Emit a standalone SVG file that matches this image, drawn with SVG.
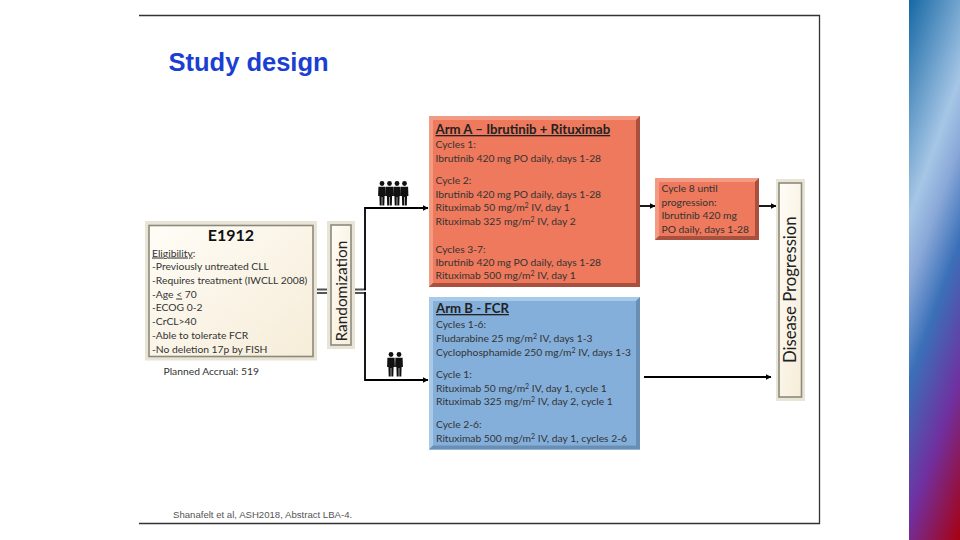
<svg xmlns="http://www.w3.org/2000/svg" xmlns:xlink="http://www.w3.org/1999/xlink" width="960" height="540" viewBox="0 0 960 540">
<style>
text{font-family:Lato,"Open Sans",sans-serif;fill:#333}
.t{font-size:10.3px}
.h{font-size:13.2px;font-weight:700;text-decoration:underline;fill:#222}
.u{text-decoration:underline}
.wire{fill:none;stroke:#000;stroke-width:1.8}
.dbl{fill:none;stroke:#555;stroke-width:2}
.ah{fill:#000}
.frame{fill:#e8e4d6}
.in{fill:url(#cream);stroke:#8d8a7c;stroke-width:1.6}
</style>
<defs>
<linearGradient id="side" gradientUnits="userSpaceOnUse" x1="909" y1="0" x2="1127.7" y2="79.7">
<stop offset="0" stop-color="#1668a4"/><stop offset=".32" stop-color="#a6c6e6"/><stop offset=".42" stop-color="#8aa8d8"/><stop offset=".56" stop-color="#3a70b8"/><stop offset=".765" stop-color="#7030a0"/><stop offset="1" stop-color="#a80010"/>
</linearGradient>
<linearGradient id="cream" x1="0" y1="0" x2="1" y2="1"><stop offset="0" stop-color="#fffdf7"/><stop offset="1" stop-color="#f6ecd8"/></linearGradient>
<marker id="arr" markerWidth="6" markerHeight="6" refX="5.500" refY="3" orient="auto" markerUnits="userSpaceOnUse"><path class="ah" d="M0 0L6 3L0 6Z"/></marker>
<g id="man"><circle cx="0" cy="2.500" r="2.400" fill="#111"/><path d="M-3.600 5.800H3.600L3.900 15H2.600L2.300 24.500H.3V16H-.3V24.500H-2.300L-2.600 15H-3.900Z" fill="#111"/></g>
</defs>
<rect width="960" height="540" fill="#fff"/>
<rect x="909" y="0" width="51" height="540" fill="url(#side)"/>
<path d="M139 15.500H819.500V523.500H139" fill="none" stroke="#333" stroke-width="1.3"/>
<text x="168.500" y="71" style="font-family:'Liberation Sans',Arial,sans-serif;font-size:25.500px;font-weight:700;fill:#1b3fd2">Study design</text>
<text x="173" y="517.500" style="font-family:'Liberation Sans',Arial,sans-serif;font-size:9.600px;fill:#555">Shanafelt et al, ASH2018, Abstract LBA-4.</text>

<g id="connectors">
<path class="dbl" d="M316 289.500H327M316 293H327M355 289.500H366M355 293H366"/>
<path class="wire" d="M365 290V208H428" marker-end="url(#arr)"/>
<path class="wire" d="M365 292V380H428" marker-end="url(#arr)"/>
<path class="wire" d="M640 206H655" marker-end="url(#arr)"/>
<path class="wire" d="M759 206H776" marker-end="url(#arr)"/>
<path class="wire" d="M644 377H771" marker-end="url(#arr)"/>
</g>

<g id="e1912">
<rect class="frame" x="145" y="221" width="172" height="139.500"/>
<rect class="in" x="149" y="225.500" width="164" height="131"/>
<text x="231" y="241" text-anchor="middle" style="font-size:16px;font-weight:700;fill:#111">E1912</text>
<text class="t" x="152" y="256.500"><tspan class="u">Eligibility</tspan>:</text>
<text class="t" x="152" y="270">-Previously untreated CLL</text>
<text class="t" x="152" y="284">-Requires treatment (IWCLL 2008)</text>
<text class="t" x="152" y="297.500">-Age <tspan class="u">&lt;</tspan> 70</text>
<text class="t" x="152" y="311">-ECOG 0-2</text>
<text class="t" x="152" y="325">-CrCL&gt;40</text>
<text class="t" x="152" y="338.500">-Able to tolerate FCR</text>
<text class="t" x="152" y="352.500">-No deletion 17p by FISH</text>
</g>
<text id="accrual" class="t" x="163.500" y="375">Planned Accrual: 519</text>

<g id="randomization">
<rect class="frame" x="327" y="221" width="28" height="128"/>
<rect class="in" x="331" y="225" width="20" height="120"/>
<text transform="translate(346.500 341.500) rotate(-90)" style="font-size:15.400px;fill:#222">Randomization</text>
</g>

<g id="arm-a">
<rect x="429" y="116" width="211" height="171" fill="#ee795c"/>
<path d="M429 116H640L636 120H433V283L429 287Z" fill="#f39a84"/>
<path d="M640 116V287H429L433 283H636V120Z" fill="#a9503f"/>
<text class="h" x="435.500" y="134">Arm A – Ibrutinib + Rituximab</text>
<text class="t" x="435.500" y="148">Cycles 1:</text>
<text class="t" x="435.500" y="161.500">Ibrutinib 420 mg PO daily, days 1-28</text>
<text class="t" x="435.500" y="184">Cycle 2:</text>
<text class="t" x="435.500" y="197.500">Ibrutinib 420 mg PO daily, days 1-28</text>
<text class="t" x="435.500" y="211">Rituximab 50 mg/m<tspan dy="-3" font-size="7">2</tspan><tspan dy="3"> IV, day 1</tspan></text>
<text class="t" x="435.500" y="224.500">Rituximab 325 mg/m<tspan dy="-3" font-size="7">2</tspan><tspan dy="3"> IV, day 2</tspan></text>
<text class="t" x="435.500" y="252.500">Cycles 3-7:</text>
<text class="t" x="435.500" y="265.500">Ibrutinib 420 mg PO daily, days 1-28</text>
<text class="t" x="435.500" y="279">Rituximab 500 mg/m<tspan dy="-3" font-size="7">2</tspan><tspan dy="3"> IV, day 1</tspan></text>
</g>

<g id="arm-b">
<rect x="429" y="297" width="211" height="152.500" fill="#84afdb"/>
<path d="M429 297H640L636 301H433V445.500L429 449.500Z" fill="#a9c9e9"/>
<path d="M640 297V449.500H429L433 445.500H636V301Z" fill="#6a8fb4"/>
<text class="h" x="436" y="313">Arm B - FCR</text>
<text class="t" x="436" y="328">Cycles 1-6:</text>
<text class="t" x="436" y="342">Fludarabine 25 mg/m<tspan dy="-3" font-size="7">2</tspan><tspan dy="3"> IV, days 1-3</tspan></text>
<text class="t" x="436" y="355.500">Cyclophosphamide 250 mg/m<tspan dy="-3" font-size="7">2</tspan><tspan dy="3"> IV, days 1-3</tspan></text>
<text class="t" x="436" y="377.500">Cycle 1:</text>
<text class="t" x="436" y="391.500">Rituximab 50 mg/m<tspan dy="-3" font-size="7">2</tspan><tspan dy="3"> IV, day 1, cycle 1</tspan></text>
<text class="t" x="436" y="405">Rituximab 325 mg/m<tspan dy="-3" font-size="7">2</tspan><tspan dy="3"> IV, day 2, cycle 1</tspan></text>
<text class="t" x="436" y="427.500">Cycle 2-6:</text>
<text class="t" x="436" y="441.500">Rituximab 500 mg/m<tspan dy="-3" font-size="7">2</tspan><tspan dy="3"> IV, day 1, cycles 2-6</tspan></text>
</g>

<g id="cycle-8">
<rect x="655" y="178" width="104" height="62" fill="#ee795c"/>
<path d="M655 178H759L755 182H659V236L655 240Z" fill="#f39a84"/>
<path d="M759 178V240H655L659 236H755V182Z" fill="#a9503f"/>
<text class="t" x="661.500" y="192">Cycle 8 until</text>
<text class="t" x="661.500" y="205.500">progression:</text>
<text class="t" x="661.500" y="219">Ibrutinib 420 mg</text>
<text class="t" x="661.500" y="232.500">PO daily, days 1-28</text>
</g>

<g id="disease-progression">
<rect class="frame" x="776" y="179" width="29" height="222"/>
<rect class="in" x="779" y="183" width="22.500" height="214"/>
<text transform="translate(796 363) rotate(-90)" style="font-size:16.700px;fill:#222">Disease Progression</text>
</g>

<g id="people-4">
<use xlink:href="#man" x="382" y="181"/>
<use xlink:href="#man" x="389.500" y="181"/>
<use xlink:href="#man" x="397" y="181"/>
<use xlink:href="#man" x="404.500" y="181"/>
</g>
<g id="people-2">
<use xlink:href="#man" x="391" y="352"/>
<use xlink:href="#man" x="399" y="352"/>
</g>
</svg>
